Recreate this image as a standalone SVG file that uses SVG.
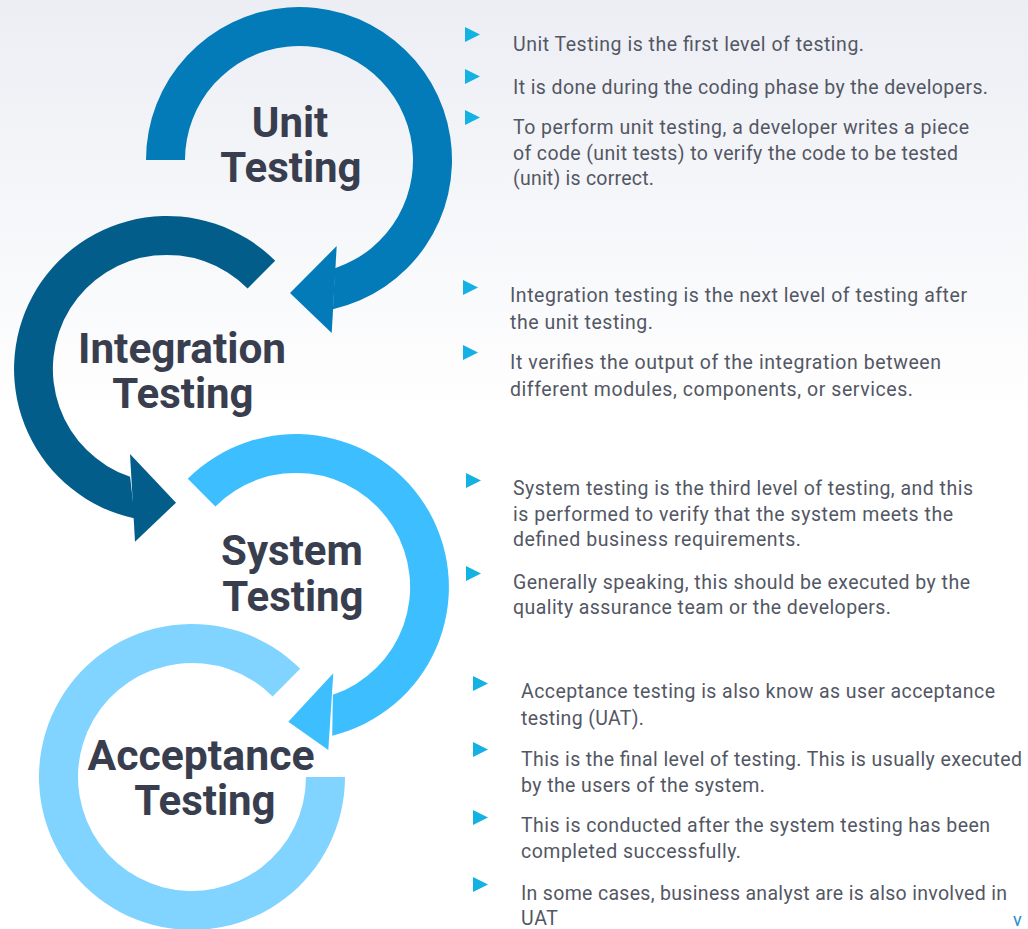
<svg xmlns="http://www.w3.org/2000/svg" width="1028" height="929" viewBox="0 0 1028 929">
<defs>
<linearGradient id="bg" x1="0" y1="0" x2="0" y2="1">
<stop offset="0" stop-color="#eceef4"/>
<stop offset="0.45" stop-color="#ffffff"/>
<stop offset="1" stop-color="#ffffff"/>
</linearGradient>
<polygon id="bul" points="0,0 15,7.5 0,15"/>
</defs>
<style>
.title{font-family:Roboto,"Liberation Sans",sans-serif;font-weight:700;font-size:42px;fill:#393e4f;text-anchor:middle}
.body{font-family:Roboto,"Liberation Sans",sans-serif;font-size:19.5px;fill:#535764}
.bullet{fill:#14b1e3}
</style>
<rect x="0" y="0" width="1028" height="929" fill="url(#bg)"/>
<g id="connectors">
<g id="arrow-unit" fill="#037bb8">
<path d="M146,160 A153,153 0 1 1 332.9,309.2 L335,268.2 A114,114 0 1 0 185,160 Z"/>
<polygon points="336.7,246 290,293 331.7,333"/>
</g>
<g id="arrow-integration" fill="#035d8a">
<path d="M275.2,260.8 A153,153 0 1 0 134.9,518.6 L130.1,476.8 A114,114 0 1 1 247.6,288.4 Z"/>
<polygon points="130,454 176,502.7 135,541.7"/>
</g>
<g id="arrow-system" fill="#3dbfff">
<path d="M187.8,478.8 A153,153 0 1 1 332.2,735.7 L332.9,694.8 A114,114 0 1 0 215.4,506.4 Z"/>
<polygon points="333.3,673.3 288.3,721.7 328.3,750"/>
</g>
<g id="arc-acceptance" fill="#80d4ff">
<path d="M300.2,668.8 A153,153 0 1 0 345,777 L306,777 A114,114 0 1 1 272.6,696.4 Z"/>
</g>
</g>
<g id="node-unit">
<text class="title" x="290" y="137">Unit</text>
<text class="title" x="291" y="182">Testing</text>
</g>
<g id="node-integration">
<text class="title" x="182" y="363" textLength="208" lengthAdjust="spacingAndGlyphs">Integration</text>
<text class="title" x="183" y="408">Testing</text>
</g>
<g id="node-system">
<text class="title" x="292" y="565">System</text>
<text class="title" x="293" y="611">Testing</text>
</g>
<g id="node-acceptance">
<text class="title" x="201" y="770" textLength="227" lengthAdjust="spacingAndGlyphs">Acceptance</text>
<text class="title" x="205" y="815">Testing</text>
</g>
<g id="notes-unit">
<use href="#bul" class="bullet" x="465" y="27"/>
<use href="#bul" class="bullet" x="465" y="69"/>
<use href="#bul" class="bullet" x="465" y="110"/>
<text class="body" x="513" y="51" textLength="351">Unit Testing is the first level of testing.</text>
<text class="body" x="513" y="94" textLength="475">It is done during the coding phase by the developers.</text>
<text class="body" x="513" y="134" textLength="456">To perform unit testing, a developer writes a piece</text>
<text class="body" x="513" y="160" textLength="445">of code (unit tests) to verify the code to be tested</text>
<text class="body" x="513" y="185" textLength="141">(unit) is correct.</text>
</g>
<g id="notes-integration">
<use href="#bul" class="bullet" x="463" y="280"/>
<use href="#bul" class="bullet" x="463" y="345"/>
<text class="body" x="510" y="302" textLength="457">Integration testing is the next level of testing after</text>
<text class="body" x="510" y="329" textLength="143">the unit testing.</text>
<text class="body" x="510" y="369" textLength="431">It verifies the output of the integration between</text>
<text class="body" x="510" y="396" textLength="403">different modules, components, or services.</text>
</g>
<g id="notes-system">
<use href="#bul" class="bullet" x="466" y="473"/>
<use href="#bul" class="bullet" x="466" y="566"/>
<text class="body" x="513" y="495" textLength="460">System testing is the third level of testing, and this</text>
<text class="body" x="513" y="521" textLength="440">is performed to verify that the system meets the</text>
<text class="body" x="513" y="546" textLength="288">defined business requirements.</text>
<text class="body" x="513" y="589" textLength="457">Generally speaking, this should be executed by the</text>
<text class="body" x="513" y="614" textLength="378">quality assurance team or the developers.</text>
</g>
<g id="notes-acceptance">
<use href="#bul" class="bullet" x="473" y="676"/>
<use href="#bul" class="bullet" x="473" y="742"/>
<use href="#bul" class="bullet" x="473" y="810"/>
<use href="#bul" class="bullet" x="473" y="877"/>
<text class="body" x="521" y="698" textLength="474">Acceptance testing is also know as user acceptance</text>
<text class="body" x="521" y="725" textLength="123">testing (UAT).</text>
<text class="body" x="521" y="766" textLength="501">This is the final level of testing. This is usually executed</text>
<text class="body" x="521" y="792" textLength="244">by the users of the system.</text>
<text class="body" x="521" y="832" textLength="469">This is conducted after the system testing has been</text>
<text class="body" x="521" y="858" textLength="220">completed successfully.</text>
<text class="body" x="521" y="900" textLength="486">In some cases, business analyst are is also involved in</text>
<text class="body" x="521" y="925" textLength="37">UAT</text>
</g>
<text x="1013" y="926" style="font-family:Roboto,'Liberation Sans',sans-serif;font-size:18px;fill:#1f8ccc">v</text>
</svg>
